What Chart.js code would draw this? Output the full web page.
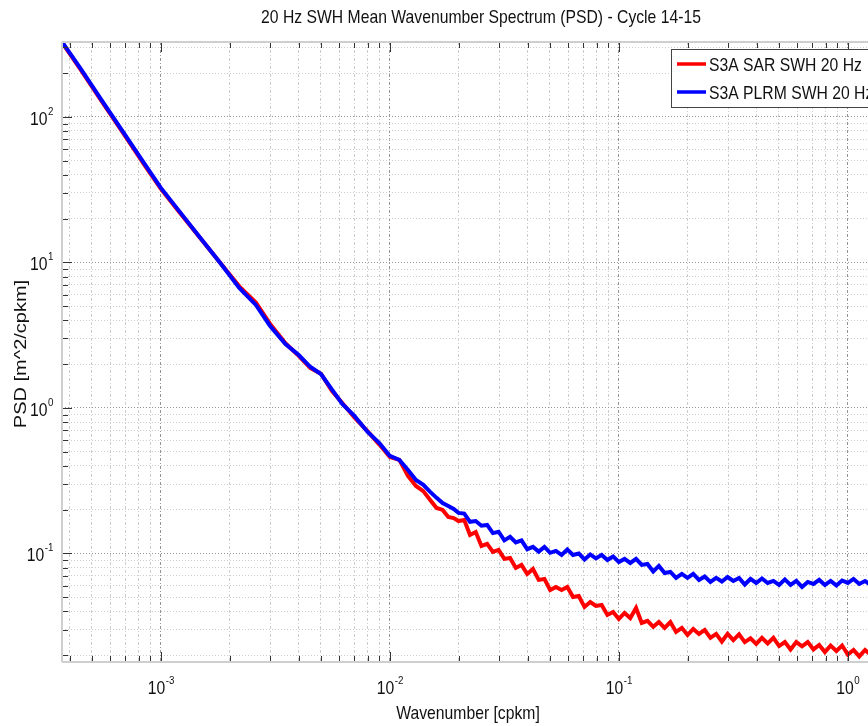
<!DOCTYPE html>
<html>
<head>
<meta charset="utf-8">
<script src="https://cdn.jsdelivr.net/npm/chart.js@4"></script>
<style>
  html, body { margin: 0; padding: 0; background: #fff; overflow: hidden; }
  #wrap { width: 905px; height: 726px; }
</style>
</head>
<body>
<div id="wrap"><canvas id="psdChart" width="905" height="726"></canvas></div>
<script>
// Texts
const titleText = '20 Hz SWH Mean Wavenumber Spectrum (PSD) - Cycle 14-15';
const xTitle = 'Wavenumber [cpkm]';
const yTitle = 'PSD [m^2/cpkm]';
const seriesNames = ['S3A SAR SWH 20 Hz', 'S3A PLRM SWH 20 Hz'];

// Wavenumber [cpkm]
const wavenumber = [
  0.00037, 0.00045, 0.00055, 0.0007, 0.00085, 0.001, 0.0012, 0.0015, 0.0018, 0.0022,
  0.0026, 0.003, 0.0035, 0.004, 0.0045, 0.005, 0.0056, 0.0062, 0.007, 0.008,
  0.009, 0.01, 0.011, 0.012, 0.013, 0.014, 0.015, 0.016, 0.017, 0.018, 0.019,
  0.01995, 0.02113, 0.02239, 0.02371, 0.02512, 0.02661, 0.02818, 0.02985, 0.03162, 0.03350,
  0.03548, 0.03758, 0.03981, 0.04217, 0.04467, 0.04732, 0.05012, 0.05309, 0.05623, 0.05957,
  0.06310, 0.06683, 0.07079, 0.07499, 0.07943, 0.08414, 0.08913, 0.09441, 0.1000, 0.1059,
  0.1122, 0.1189, 0.1259, 0.1334, 0.1413, 0.1496, 0.1585, 0.1679, 0.1778, 0.1884,
  0.1995, 0.2113, 0.2239, 0.2371, 0.2512, 0.2661, 0.2818, 0.2985, 0.3162, 0.3350,
  0.3548, 0.3758, 0.3981, 0.4217, 0.4467, 0.4732, 0.5012, 0.5309, 0.5623, 0.5957,
  0.6310, 0.6683, 0.7079, 0.7499, 0.7943, 0.8414, 0.8913, 0.9441, 1.000, 1.059,
  1.122, 1.189, 1.259
];

// S3A SAR SWH 20 Hz PSD [m^2/cpkm]
const sarPsd = [
  325, 207, 129, 73.5, 46.5, 32.0, 22.3, 14.4, 10.1, 6.85,
  5.30, 3.78, 2.78, 2.28, 1.88, 1.72, 1.30, 1.08, 0.86, 0.69,
  0.56, 0.46, 0.44, 0.341, 0.291, 0.268, 0.233, 0.2055, 0.199, 0.178, 0.175,
  0.167, 0.170, 0.134, 0.1405, 0.1126, 0.1162, 0.1024, 0.1057, 0.0917, 0.0931,
  0.0795, 0.0834, 0.0723, 0.0782, 0.0658, 0.0668, 0.0561, 0.0589, 0.0561, 0.0589,
  0.0502, 0.0510, 0.0429, 0.0464, 0.0436, 0.0443, 0.0378, 0.0396, 0.0355, 0.0390,
  0.0360, 0.0422, 0.0333, 0.0344, 0.0313, 0.0338, 0.0308, 0.0338, 0.0289, 0.0308,
  0.0275, 0.0303, 0.0280, 0.0298, 0.0263, 0.0280, 0.0248, 0.0280, 0.0254, 0.0278,
  0.0246, 0.0261, 0.0239, 0.0263, 0.0241, 0.0263, 0.0231, 0.0246, 0.0219, 0.0246,
  0.0230, 0.0246, 0.0219, 0.0235, 0.0210, 0.0233, 0.0214, 0.0233, 0.0202, 0.0217,
  0.0196, 0.0217, 0.0201
];

// S3A PLRM SWH 20 Hz PSD [m^2/cpkm]
const plrmPsd = [
  328, 210, 131, 74.6, 47.3, 32.5, 22.6, 14.5, 10.1, 6.68,
  5.10, 3.66, 2.75, 2.31, 1.91, 1.71, 1.33, 1.065, 0.881, 0.684,
  0.574, 0.468, 0.439, 0.375, 0.320, 0.296, 0.265, 0.241, 0.222, 0.212, 0.202,
  0.190, 0.188, 0.165, 0.167, 0.155, 0.157, 0.138, 0.141, 0.123, 0.130,
  0.119, 0.123, 0.107, 0.111, 0.103, 0.111, 0.101, 0.104, 0.0977, 0.1065,
  0.0977, 0.100, 0.0909, 0.0984, 0.0924, 0.0977, 0.0902, 0.0954, 0.0874, 0.0917,
  0.0860, 0.0917, 0.0834, 0.0847, 0.0752, 0.0821, 0.0734, 0.0746, 0.0679, 0.0723,
  0.0679, 0.0723, 0.0658, 0.0695, 0.0637, 0.0679, 0.0642, 0.0689, 0.0647, 0.0679,
  0.0612, 0.0668, 0.0627, 0.0673, 0.0627, 0.0647, 0.0607, 0.0663, 0.0607, 0.0647,
  0.0589, 0.0637, 0.0617, 0.0658, 0.0607, 0.0647, 0.0603, 0.0652, 0.0627, 0.0668,
  0.0617, 0.0647, 0.0607
];

// Decade tick labels (base 10, exponent)
const xDecades = [1e-3, 1e-2, 1e-1, 1e0];
const xExponents = ['-3', '-2', '-1', '0'];
const yDecades = [1e-1, 1e0, 1e1, 1e2];
const yExponents = ['-1', '0', '1', '2'];

const FONT = "'Liberation Sans', Arial, Helvetica, sans-serif";
const squeeze = 0.85; // text in the source image is horizontally compressed

// log ticks 1..9 x 10^n inside the range
function logTicks(min, max) {
  const out = [];
  for (let e = Math.floor(Math.log10(min)); e <= Math.ceil(Math.log10(max)); e++) {
    for (let m = 1; m <= 9; m++) {
      const v = m * Math.pow(10, e);
      if (v >= min && v <= max) out.push({ value: v, major: m === 1 });
    }
  }
  return out;
}

function putText(ctx, str, x, y, size, align, rotated) {
  ctx.save();
  ctx.translate(x, y);
  if (rotated) {
    ctx.rotate(-Math.PI / 2);
    ctx.scale(1, squeeze);
  } else {
    ctx.scale(squeeze, 1);
  }
  ctx.font = size + 'px ' + FONT;
  ctx.textAlign = align;
  ctx.textBaseline = 'alphabetic';
  ctx.fillStyle = '#111';
  ctx.fillText(str, 0, 0);
  ctx.restore();
}

function textWidth(ctx, str, size) {
  ctx.save();
  ctx.font = size + 'px ' + FONT;
  const w = ctx.measureText(str).width * squeeze;
  ctx.restore();
  return w;
}

function powerLabel(ctx, exp, x, y, align) {
  const wb = textWidth(ctx, '10', 18.5);
  const we = textWidth(ctx, exp, 11.5);
  const left = align === 'center' ? x - (wb + we) / 2 : x - wb - we;
  putText(ctx, '10', left, y, 18.5, 'left');
  putText(ctx, exp, left + wb + 0.5, y - 10, 11.5, 'left');
}

const decorPlugin = {
  id: 'decor',
  afterDraw(chart) {
    const { ctx, chartArea: a, scales: { x, y } } = chart;

    // frame
    ctx.save();
    ctx.strokeStyle = '#cfcfcf';
    ctx.lineWidth = 2;
    ctx.beginPath();
    ctx.moveTo(a.left, a.bottom); ctx.lineTo(a.right, a.bottom);
    ctx.moveTo(a.left, a.top); ctx.lineTo(a.right, a.top);
    ctx.moveTo(a.left, a.top); ctx.lineTo(a.left, a.bottom);
    ctx.stroke();

    // inward tick marks
    ctx.strokeStyle = '#333';
    ctx.lineWidth = 1;
    ctx.beginPath();
    x.ticks.forEach(t => {
      const px = Math.round(x.getPixelForValue(t.value)) + 0.5;
      const len = t.major ? 9 : 5;
      ctx.moveTo(px, a.bottom - 1); ctx.lineTo(px, a.bottom - 1 - len);
      ctx.moveTo(px, a.top + 1); ctx.lineTo(px, a.top + 1 + len);
    });
    y.ticks.forEach(t => {
      const py = Math.round(y.getPixelForValue(t.value)) + 0.5;
      const len = t.major ? 9 : 5;
      ctx.moveTo(a.left + 1, py); ctx.lineTo(a.left + 1 + len, py);
    });
    ctx.stroke();
    ctx.restore();

    // tick labels
    xDecades.forEach((v, i) => powerLabel(ctx, xExponents[i], x.getPixelForValue(v), a.bottom + 32, 'center'));
    yDecades.forEach((v, i) => powerLabel(ctx, yExponents[i], a.left - 9, y.getPixelForValue(v) + 8, 'right'));

    // titles
    putText(ctx, titleText, (a.left + a.right) / 2, 23, 18.5, 'center');
    putText(ctx, xTitle, 468, 719, 18.5, 'center');
    putText(ctx, yTitle, 26, 354, 20, 'center', true);

    // legend
    const lx = 671, ly = 49, lw = 225, lh = 58;
    ctx.save();
    ctx.fillStyle = '#fff';
    ctx.fillRect(lx, ly, lw, lh);
    ctx.strokeStyle = '#444';
    ctx.lineWidth = 1;
    ctx.strokeRect(lx + 0.5, ly + 0.5, lw, lh);
    chart.data.datasets.forEach((ds, i) => {
      const rowY = 64 + i * 28;
      ctx.strokeStyle = ds.borderColor;
      ctx.lineWidth = 3.5;
      ctx.beginPath();
      ctx.moveTo(677, rowY); ctx.lineTo(706, rowY);
      ctx.stroke();
      putText(ctx, ds.label, 709, rowY + 7, 18.5, 'left');
    });
    ctx.restore();
  }
};

const gridColor = c => (c.tick && c.tick.major ? '#959595' : '#cdcdcd');

new Chart(document.getElementById('psdChart'), {
  type: 'scatter',
  data: {
    datasets: [
      {
        label: seriesNames[0],
        data: wavenumber.map((k, i) => ({ x: k, y: sarPsd[i] })),
        borderColor: '#ff0000',
        backgroundColor: '#ff0000',
        borderWidth: 4,
        borderJoinStyle: 'miter',
        showLine: true,
        pointRadius: 0,
        tension: 0,
        order: 1
      },
      {
        label: seriesNames[1],
        data: wavenumber.map((k, i) => ({ x: k, y: plrmPsd[i] })),
        borderColor: '#0000ff',
        backgroundColor: '#0000ff',
        borderWidth: 4,
        borderJoinStyle: 'miter',
        showLine: true,
        pointRadius: 0,
        tension: 0,
        order: 0
      }
    ]
  },
  options: {
    responsive: false,
    animation: false,
    devicePixelRatio: 1,
    layout: { padding: { left: 62, top: 42, right: 5, bottom: 64 } },
    plugins: {
      legend: { display: false },
      tooltip: { enabled: false },
      title: { display: false }
    },
    scales: {
      x: {
        type: 'logarithmic',
        min: 3.7e-4,
        max: 1.69,
        afterBuildTicks: s => { s.ticks = logTicks(s.min, s.max); },
        ticks: { display: false, autoSkip: false },
        grid: { drawTicks: false, color: gridColor, lineWidth: 1 },
        border: { display: false, dash: [3, 2, 1, 2] }
      },
      y: {
        type: 'logarithmic',
        min: 0.01795,
        max: 327,
        afterBuildTicks: s => { s.ticks = logTicks(s.min, s.max); },
        ticks: { display: false, autoSkip: false },
        grid: { drawTicks: false, color: gridColor, lineWidth: 1 },
        border: { display: false, dash: [1, 2] }
      }
    }
  },
  plugins: [decorPlugin]
});
</script>
</body>
</html>
